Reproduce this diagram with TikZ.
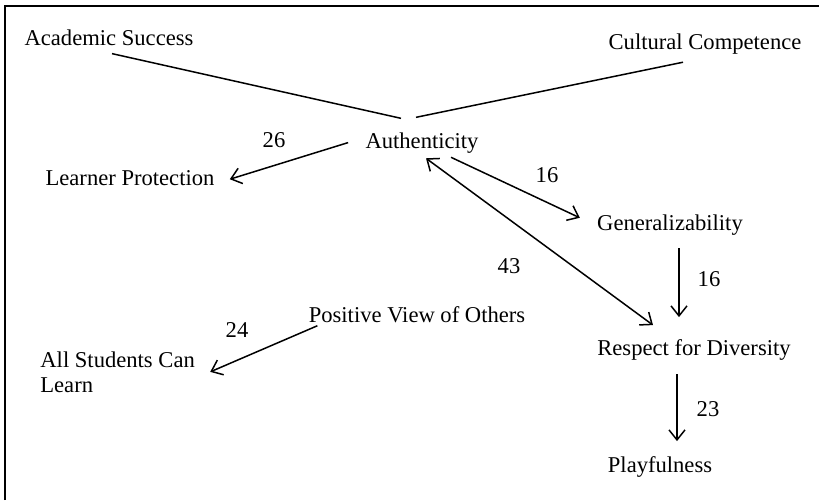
\documentclass[tikz,border=0pt]{standalone}
\usepackage{fontspec}
\setmainfont{Liberation Serif}
\usetikzlibrary{arrows.meta}
\usetikzlibrary{positioning}

\begin{document}
\begin{tikzpicture}[x=0.5pt,y=-0.5pt,>={Straight Barb[length=5pt,width=8pt]},
  concept/.style={inner sep=2pt,anchor=base,font=\fontsize{11.3pt}{12.5pt}\selectfont},
  count/.style={inner sep=1pt,anchor=base,font=\fontsize{11.3pt}{12.5pt}\selectfont},
  link/.style={line width=0.75pt}]
\useasboundingbox (0,0) rectangle (819,500);
\draw[line width=0.8pt] (5,500) -- (5,6) -- (819,6);

\node[concept] (acad) at (109,45) {Academic Success};
\node[concept] (cult) at (705,49) {Cultural Competence};
\node[concept] (auth) at (422,148) {Authenticity};
\node[concept] (lprot) at (130,185) {Learner Protection};
\node[concept] (gen) at (670,230) {Generalizability};
\node[concept] (pos) at (417,322) {Positive View of Others};
\node[concept,anchor=north west,align=left] (all) at (36,347) {All Students Can\\Learn};
\node[concept] (resp) at (694,355) {Respect for Diversity};
\node[concept] (play) at (660,472) {Playfulness};

\node[count] (n26) at (274,147) {26};
\node[count] (n16a) at (547,182) {16};
\node[count] (n43) at (509,273) {43};
\node[count] (n16b) at (709,286) {16};
\node[count] (n24) at (237,337) {24};
\node[count] (n23) at (708,416) {23};

\draw[link] ([xshift=1.5pt,yshift=-2pt]acad.south) -- ([xshift=-10.5pt,yshift=4.8pt]auth.north);
\draw[link] ([xshift=-11pt,yshift=-2pt]cult.south) -- ([xshift=-3pt,yshift=5.3pt]auth.north);
\draw[link,->] ([xshift=-6.5pt]auth.west) -- ([xshift=5.5pt,yshift=-0.8pt]lprot.east);
\draw[link,->] ([xshift=14.5pt]auth.south) -- ([xshift=-6.5pt,yshift=3.4pt]gen.west);
\draw[link,<->] ([xshift=2pt,yshift=-0.5pt]auth.south) -- ([xshift=-20.5pt,yshift=4.8pt]resp.north);
\draw[link,->] ([xshift=4.5pt,yshift=-4.5pt]gen.south) -- ([xshift=-7.5pt,yshift=8.8pt]resp.north);
\draw[link,->] ([xshift=-8.5pt,yshift=-5pt]resp.south) -- ([xshift=8.5pt,yshift=5.3pt]play.north);
\draw[link,->] ([xshift=6.5pt,yshift=0.5pt]pos.south west) -- ([xshift=5.5pt]all.east);
\end{tikzpicture}
\end{document}
